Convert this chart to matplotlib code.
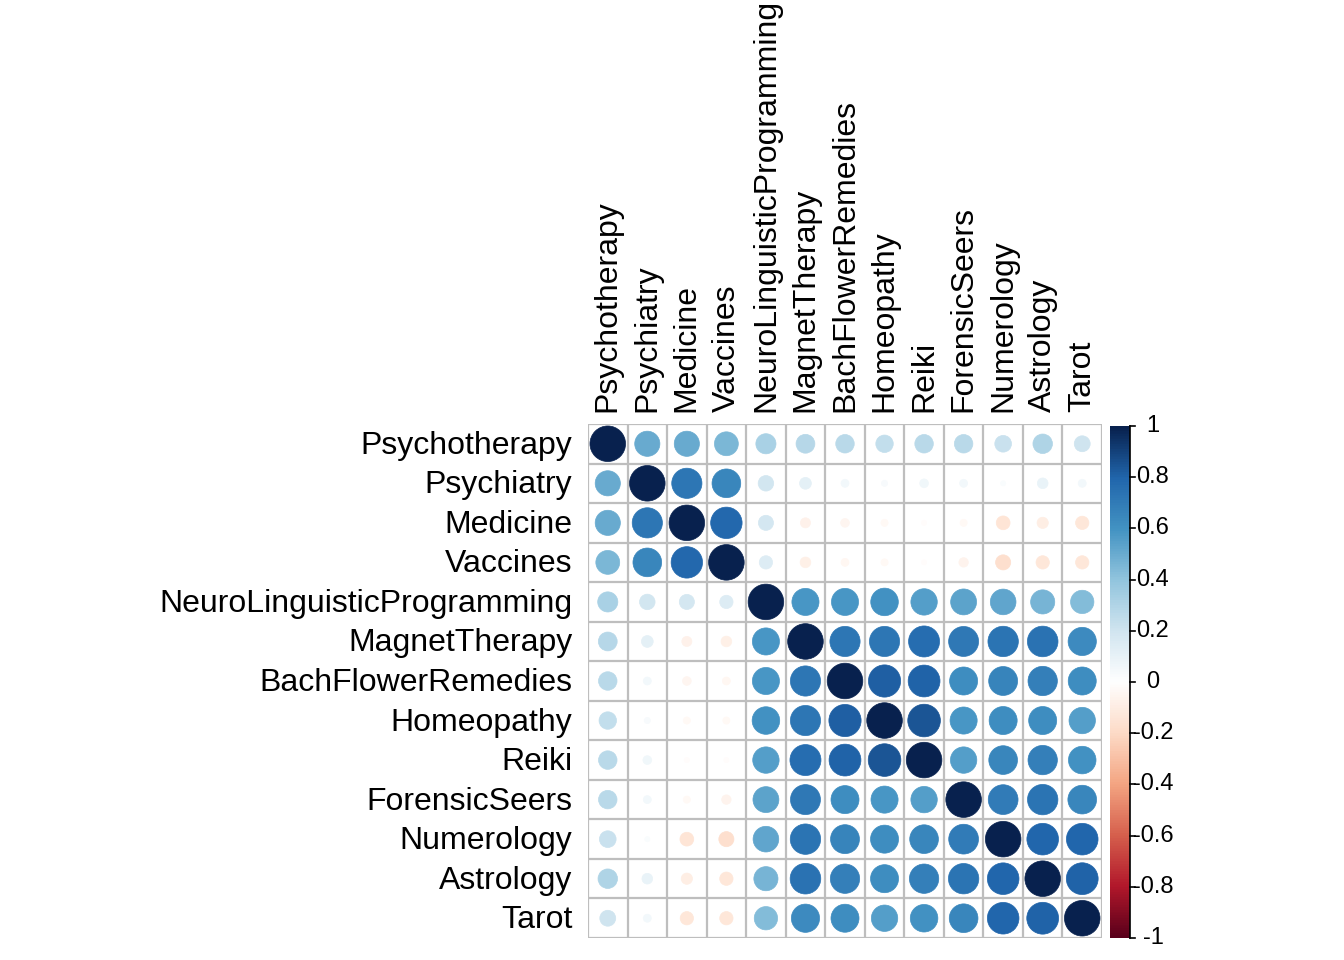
import numpy as np
import matplotlib
matplotlib.use("Agg")
import matplotlib.pyplot as plt
from matplotlib.colors import LinearSegmentedColormap
from matplotlib.patches import Circle

plt.rcParams['font.family'] = ['Liberation Sans', 'DejaVu Sans']

labels = ["Psychotherapy", "Psychiatry", "Medicine", "Vaccines",
          "NeuroLinguisticProgramming", "MagnetTherapy", "BachFlowerRemedies",
          "Homeopathy", "Reiki", "ForensicSeers", "Numerology", "Astrology", "Tarot"]

# correlation rows
psychotherapy = [1.00, 0.50, 0.50, 0.45, 0.32, 0.28, 0.27, 0.24, 0.27, 0.27, 0.22, 0.30, 0.20]
psychiatry    = [0.50, 1.00, 0.72, 0.65, 0.19, 0.11, 0.05, 0.03, 0.06, 0.05, 0.02, 0.09, 0.05]
medicine      = [0.50, 0.72, 1.00, 0.78, 0.18, -0.08, -0.06, -0.04, -0.02, -0.04, -0.15, -0.10, -0.14]
vaccines      = [0.45, 0.65, 0.78, 1.00, 0.14, -0.09, -0.05, -0.04, -0.02, -0.07, -0.18, -0.14, -0.14]
nlp           = [0.32, 0.19, 0.18, 0.14, 1.00, 0.58, 0.58, 0.60, 0.55, 0.53, 0.52, 0.46, 0.43]
magnet        = [0.28, 0.11, -0.08, -0.09, 0.58, 1.00, 0.72, 0.72, 0.76, 0.71, 0.73, 0.74, 0.63]
bach          = [0.27, 0.05, -0.06, -0.05, 0.58, 0.72, 1.00, 0.82, 0.80, 0.62, 0.66, 0.68, 0.62]
homeopathy    = [0.24, 0.03, -0.04, -0.04, 0.60, 0.72, 0.82, 1.00, 0.84, 0.58, 0.62, 0.62, 0.55]
reiki         = [0.27, 0.06, -0.02, -0.02, 0.55, 0.76, 0.80, 0.84, 1.00, 0.55, 0.65, 0.68, 0.60]
forensic      = [0.27, 0.05, -0.04, -0.07, 0.53, 0.71, 0.62, 0.58, 0.55, 1.00, 0.70, 0.73, 0.65]
numerology    = [0.22, 0.02, -0.15, -0.18, 0.52, 0.73, 0.66, 0.62, 0.65, 0.70, 1.00, 0.79, 0.79]
astrology     = [0.30, 0.09, -0.10, -0.14, 0.46, 0.74, 0.68, 0.62, 0.68, 0.73, 0.79, 1.00, 0.80]
tarot         = [0.20, 0.05, -0.14, -0.14, 0.43, 0.63, 0.62, 0.55, 0.60, 0.65, 0.79, 0.80, 1.00]

cb_ticks = [1, 0.8, 0.6, 0.4, 0.2, 0, -0.2, -0.4, -0.6, -0.8, -1]

corr = np.array([psychotherapy, psychiatry, medicine, vaccines, nlp, magnet, bach,
                 homeopathy, reiki, forensic, numerology, astrology, tarot])

rdbu = LinearSegmentedColormap.from_list("corrRdBu", [
    "#5A001B", "#B2182B", "#D6604D", "#F4A582", "#FDDBC7", "#FFFFFF",
    "#D1E5F0", "#92C5DE", "#4393C3", "#2166AC", "#08214E"], N=200)

W, H = 1344, 960
fig = plt.figure(figsize=(W / 100, H / 100), dpi=100)

n = len(labels)
ax = fig.add_axes([588 / W, 22 / H, 514 / W, 514 / H])
ax.set_xlim(0.5, n + 0.5)
ax.set_ylim(n + 0.5, 0.5)
ax.set_aspect("equal")
ax.axis("off")

grid_col = "#BEBEBE"
for k in range(n + 1):
    ax.plot([0.5, n + 0.5], [k + 0.5, k + 0.5], color=grid_col, lw=1.6, zorder=1, solid_capstyle="projecting")
    ax.plot([k + 0.5, k + 0.5], [0.5, n + 0.5], color=grid_col, lw=1.6, zorder=1, solid_capstyle="projecting")

for i in range(n):
    for j in range(n):
        r = corr[i, j]
        c = rdbu((r + 1) / 2)
        ax.add_patch(Circle((j + 1, i + 1), 0.45 * np.sqrt(abs(r)), facecolor=c,
                            edgecolor=c, lw=0.5, zorder=2))

for i, name in enumerate(labels):
    ax.text(0.1, i + 1.05, name, ha="right", va="center", fontsize=23)
    ax.text(i + 1, 0.2, name, ha="center", va="bottom", rotation=90, fontsize=23)

# colour legend
cax = fig.add_axes([1110 / W, 22 / H, 20 / W, 512 / H])
grad = np.linspace(1, -1, 400).reshape(-1, 1)
cax.imshow(grad, cmap=rdbu, vmin=-1, vmax=1, aspect="auto", extent=[0, 1, -1, 1])
cax.set_xlim(0, 1)
cax.set_ylim(-1, 1)
cax.set_xticks([])
cax.set_yticks([])
for side, s in cax.spines.items():
    s.set_visible(side == "right")
    s.set_linewidth(1.2)
    s.set_color("black")
for t in cb_ticks:
    cax.plot([1, 1.25], [t, t], color="black", lw=1.2, clip_on=False)
    lab = "0" if t == 0 else ("%g" % t)
    cax.text(2.15, t, lab, ha="center", va="center", fontsize=17, clip_on=False)

fig.savefig("out.png", dpi=100)
